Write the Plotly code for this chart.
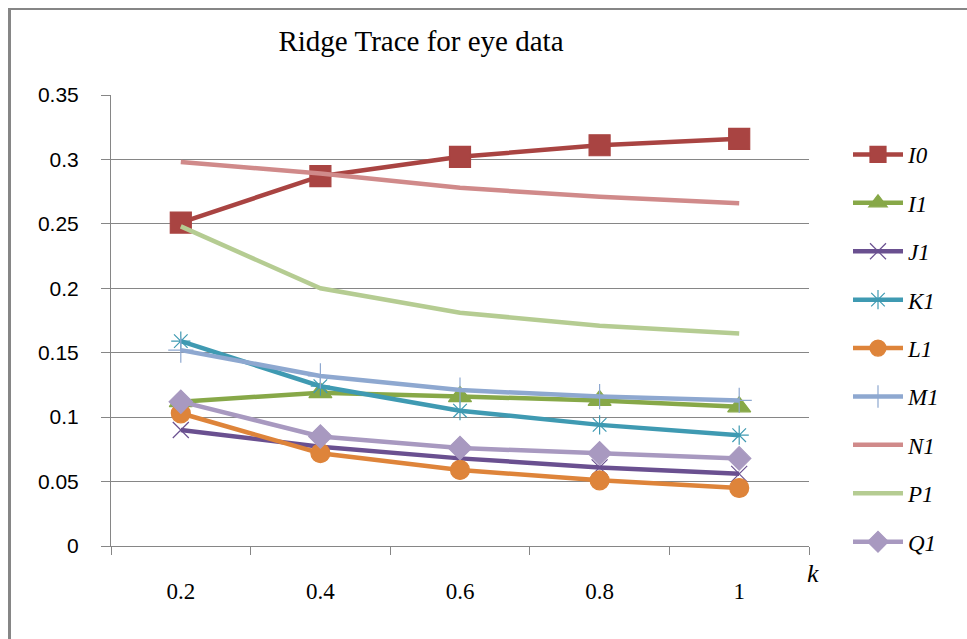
import plotly.graph_objects as go

# Ridge parameter values (categories on the x axis)
k_values = ["0.2", "0.4", "0.6", "0.8", "1"]

# Standardised ridge coefficients for each predictor
I0 = [0.251, 0.287, 0.302, 0.311, 0.316]
I1 = [0.112, 0.119, 0.116, 0.113, 0.108]
J1 = [0.090, 0.077, 0.068, 0.061, 0.056]
K1 = [0.159, 0.124, 0.105, 0.094, 0.086]
L1 = [0.103, 0.072, 0.059, 0.051, 0.045]
M1 = [0.152, 0.132, 0.121, 0.116, 0.113]
N1 = [0.298, 0.289, 0.278, 0.271, 0.266]
P1 = [0.248, 0.200, 0.181, 0.171, 0.165]
Q1 = [0.112, 0.085, 0.076, 0.072, 0.068]

y_ticks = [0, 0.05, 0.1, 0.15, 0.2, 0.25, 0.3, 0.35]
y_tick_text = ["0", "0.05", "0.1", "0.15", "0.2", "0.25", "0.3", "0.35"]

series = [
    ("I0", I0, "#A94442", "square", 21),
    ("I1", I1, "#87A848", "triangle-up", 20),
    ("J1", J1, "#6A5090", "x-thin-open", 16),
    ("K1", K1, "#3F9AB2", "asterisk-open", 16),
    ("L1", L1, "#DE843A", "circle", 19),
    ("M1", M1, "#8EA8D0", "cross-thin-open", 18),
    ("N1", N1, "#D08A8A", None, 0),
    ("P1", P1, "#B5CC92", None, 0),
    ("Q1", Q1, "#A899C0", "diamond", 18),
]

fig = go.Figure()
for name, vals, color, symbol, size in series:
    if symbol is None:
        mode = "lines"
        marker = dict()
    else:
        mode = "lines+markers"
        marker = dict(symbol=symbol, size=size, color=color,
                      line=dict(color=color, width=1.2))
    fig.add_trace(go.Scatter(
        x=k_values, y=vals, name=name, mode=mode, legendgroup=name,
        line=dict(color=color, width=4.5),
        marker=marker,
    ))

# pixel -> paper helpers for the plot area (x: 111..809, y: 546..95)
L, R, B, T = 111, 809, 546, 95
def px(x):
    return (x - L) / (R - L)
def py(y):
    return (B - y) / (B - T)

fig.update_layout(
    width=967, height=639,
    margin=dict(l=L, r=967 - R, t=T, b=639 - B),
    paper_bgcolor="white", plot_bgcolor="white",
    title=dict(
        text="Ridge Trace for eye data",
        font=dict(family="Liberation Serif", size=29, color="black"),
        x=px(421), xanchor="center", xref="paper",
        y=1 - 41 / 639, yanchor="middle",
    ),
    showlegend=True,
    legend=dict(
        x=px(848), y=py(133), xanchor="left", yanchor="top",
        font=dict(family="Liberation Serif", size=23, color="black", style="italic"),
        tracegroupgap=15.5, itemwidth=50,
        bgcolor="rgba(0,0,0,0)",
    ),
    xaxis=dict(
        type="category", range=[-0.5, 4.5],
        showline=True, linecolor="#868686", linewidth=1,
        showgrid=False, ticks="outside", ticklen=8, tickcolor="#868686",
        tickson="boundaries",
        tickfont=dict(family="Liberation Serif", size=23, color="black"),
        ticklabelstandoff=24,
    ),
    yaxis=dict(
        range=[0, 0.35], tickvals=y_ticks, ticktext=y_tick_text,
        showline=True, linecolor="#868686", linewidth=1,
        showgrid=True, gridcolor="#868686", gridwidth=1,
        ticks="outside", ticklen=9, tickcolor="#868686",
        tickfont=dict(family="Liberation Sans", size=21, color="black"),
        ticklabelstandoff=18,
        zeroline=False,
    ),
    annotations=[dict(
        text="<i>k</i>", x=px(821), y=py(590), xref="paper", yref="paper",
        showarrow=False, font=dict(family="Liberation Serif", size=26, color="black"),
    )],
    shapes=[
        dict(type="line", xref="paper", yref="paper",
             x0=px(9.5), x1=px(9.5), y0=py(8), y1=py(645),
             line=dict(color="#868686", width=3)),
        dict(type="line", xref="paper", yref="paper",
             x0=px(8), x1=px(970), y0=py(9), y1=py(9),
             line=dict(color="#868686", width=2)),
    ],
)

fig.write_html("out.html")
